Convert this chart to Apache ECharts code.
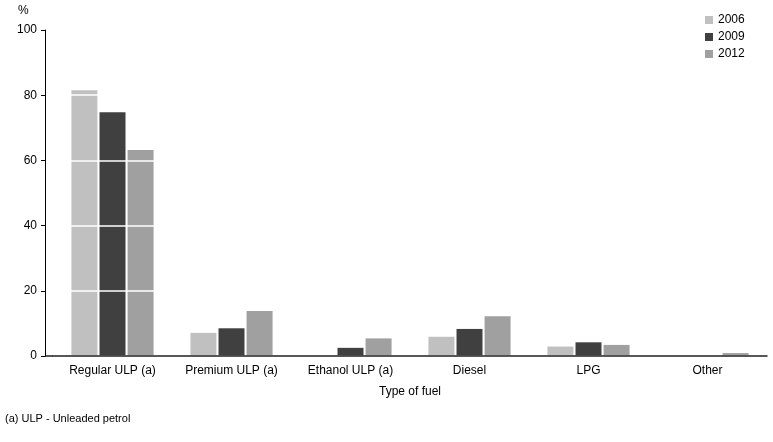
<!DOCTYPE html>
<html style="height: 100%">
<head>
<meta charset="utf-8">
<script src="https://cdn.jsdelivr.net/npm/echarts@6/dist/echarts.min.js"></script>
</head>
<body style="height: 100%; margin: 0; background: #fff">
<div id="container" style="width: 773px; height: 442px"></div>
<script type="text/javascript">
// fuel type shares, per cent
var categories = ['Regular ULP (a)', 'Premium ULP (a)', 'Ethanol ULP (a)', 'Diesel', 'LPG', 'Other'];
var years = ['2006', '2009', '2012'];
var values2006 = [81.5, 7.1, 0, 5.9, 2.9, 0];
var values2009 = [74.8, 8.5, 2.5, 8.3, 4.2, 0];
var values2012 = [63.2, 13.8, 5.4, 12.2, 3.4, 0.9];
var yTicks = [0, 20, 40, 60, 80, 100];

var colors = ['#c0c0c0', '#404040', '#a0a0a0'];
var fontName = 'Liberation Sans';

function makeSeries(name, data, color) {
    return {
        name: name,
        type: 'bar',
        data: data,
        barWidth: 26,
        barGap: '8%',
        itemStyle: {color: color},
        z: 2
    };
}

var dom = document.getElementById('container');
var myChart = echarts.init(dom);

var option = {
    animation: false,
    textStyle: {fontFamily: fontName, color: '#000'},
    legend: {
        orient: 'vertical',
        left: 700,
        top: 9,
        icon: 'rect',
        itemWidth: 8,
        itemHeight: 8,
        itemGap: 5,
        textStyle: {fontSize: 12, color: '#000', fontFamily: fontName},
        data: years
    },
    grid: {
        left: 53,
        right: 6,
        top: 30,
        bottom: 86
    },
    xAxis: {
        type: 'category',
        data: categories,
        z: 12,
        name: 'Type of fuel',
        nameLocation: 'middle',
        nameGap: 30,
        nameTextStyle: {fontSize: 12, color: '#000', fontFamily: fontName},
        axisLine: {lineStyle: {color: '#222', width: 1.5}},
        axisTick: {alignWithLabel: true, length: 4, lineStyle: {color: '#000'}},
        axisLabel: {fontSize: 12, color: '#000', margin: 9, interval: 0}
    },
    yAxis: {
        type: 'value',
        min: yTicks[0],
        max: yTicks[yTicks.length - 1],
        interval: 20,
        offset: 8,
        z: 10,
        axisLine: {show: true, lineStyle: {color: '#000', width: 1}},
        axisTick: {show: true, length: 4, lineStyle: {color: '#000'}},
        axisLabel: {fontSize: 12, color: '#000', margin: 8},
        splitLine: {show: true, lineStyle: {color: '#fff', width: 1.5}}
    },
    graphic: [
        {
            type: 'text',
            left: 18,
            top: 5,
            style: {text: '%', fontSize: 12, fill: '#000', fontFamily: fontName}
        },
        {
            type: 'line',
            shape: {x1: 45, y1: 356, x2: 53, y2: 356},
            style: {stroke: '#222', lineWidth: 1.5}
        },
        {
            type: 'text',
            left: 5,
            top: 413,
            style: {text: '(a) ULP - Unleaded petrol', fontSize: 11, fill: '#000', fontFamily: fontName}
        }
    ],
    series: [
        makeSeries(years[0], values2006, colors[0]),
        makeSeries(years[1], values2009, colors[1]),
        makeSeries(years[2], values2012, colors[2])
    ]
};

myChart.setOption(option);
</script>
</body>
</html>
